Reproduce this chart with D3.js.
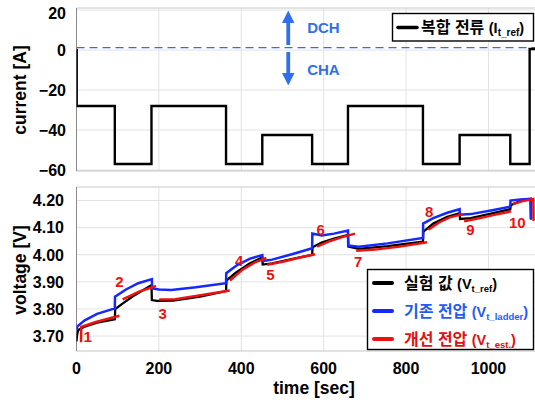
<!DOCTYPE html>
<html>
<head>
<meta charset="utf-8">
<script src="https://cdn.jsdelivr.net/npm/d3@7"></script>
<style>
  body { margin: 0; background: #fff; }
  svg text { font-family: "Liberation Sans", Arial, "Noto Sans CJK KR", sans-serif; font-weight: bold; }
</style>
</head>
<body>
<div id="chart"></div>
<script>
// ticks
var timeTicks = [0, 200, 400, 600, 800, 1000];
var currentTicks = [20, 0, -20, -40, -60];
var voltTicks = [3.70, 3.80, 3.90, 4.00, 4.10, 4.20];

// composite current profile (step after)
var stepTime    = [0, 0.5, 93, 182, 363, 451, 572, 659, 841, 930, 1053, 1100, 1113];
var stepCurrent = [0, -28, -57, -28, -57, -42.5, -57, -28, -57, -42.5, -57, 0.5, 0.5];
var refLine = 1.2;

// measured voltage V_t_ref  [time, volt]
var refVolt = [
  [0, 3.680], [1, 3.700], [4, 3.722], [20, 3.735], [50, 3.750], [93, 3.762],
  [94, 3.800], [110, 3.818], [135, 3.845], [160, 3.868], [182, 3.888],
  [183, 3.833], [195, 3.830], [235, 3.831], [300, 3.846], [363, 3.866],
  [364, 3.905], [385, 3.932], [420, 3.968], [451, 3.990],
  [452, 3.964], [475, 3.968], [525, 3.985], [572, 4.000],
  [573, 4.028], [595, 4.045], [625, 4.060], [659, 4.073],
  [660, 4.030], [685, 4.022], [755, 4.032], [841, 4.048],
  [842, 4.085], [866, 4.115], [900, 4.140], [930, 4.153],
  [931, 4.132], [957, 4.135], [1006, 4.152], [1053, 4.168],
  [1054, 4.183], [1077, 4.198], [1102, 4.206], [1103, 4.130]
];

// ladder model voltage V_t_ladder
var ladderVolt = [
  [0, 3.722], [2, 3.736], [20, 3.758], [50, 3.782], [93, 3.802],
  [93.5, 3.845], [120, 3.872], [150, 3.895], [183, 3.910],
  [183.5, 3.876], [200, 3.872], [230, 3.870], [290, 3.880], [363, 3.895],
  [363.5, 3.932], [390, 3.962], [420, 3.985], [451, 3.999],
  [451.5, 3.977], [475, 3.982], [525, 4.003], [572, 4.024],
  [572.5, 4.078], [595, 4.071], [625, 4.078], [659, 4.089],
  [659.5, 4.034], [685, 4.030], [755, 4.042], [841, 4.062],
  [841.5, 4.115], [866, 4.135], [900, 4.155], [930, 4.168],
  [930.5, 4.148], [957, 4.150], [1006, 4.163], [1053, 4.177],
  [1053.5, 4.200], [1077, 4.204], [1103, 4.206], [1103.5, 4.130]
];

// improved estimate V_t_est. (null = break between estimation windows)
var estVolt = [
  [11, 3.677], [11.5, 3.734], [47, 3.752], [104, 3.775], null,
  [112, 3.835], [152, 3.864], [193, 3.885], null,
  [201, 3.835], [240, 3.836], [290, 3.848], [372, 3.868], null,
  [372.5, 3.905], [403, 3.945], [433, 3.972], [461, 3.988], null,
  [463, 3.963], [503, 3.975], [543, 3.990], [579, 4.002], null,
  [584, 4.030], [614, 4.050], [645, 4.065], [676, 4.078], null,
  [679, 4.015], [725, 4.019], [785, 4.030], [851, 4.046], null,
  [854, 4.092], [881, 4.120], [906, 4.138], [937, 4.150], null,
  [941, 4.124], [977, 4.135], [1017, 4.148], [1055, 4.160], null,
  [1059, 4.187], [1083, 4.198], [1109, 4.206], [1109.5, 4.125]
];

// step number annotations
var stepNames = ["1", "2", "3", "4", "5", "6", "7", "8", "9", "10"];
var stepNameTime = [27, 104, 209, 395, 471, 593, 684, 856, 956, 1070];
var stepNameVolt = [3.697, 3.900, 3.783, 3.980, 3.926, 4.094, 3.974, 4.159, 4.094, 4.118];

var BLACK = "#000", BLUE = "#1428ff", RED = "#ee1111", ARROW = "#2f6fef";

var svg = d3.select("#chart").append("svg")
    .attr("width", 535).attr("height", 403);

var x = d3.scaleLinear().domain([0, 1113]).range([76.5, 535]);
var yI = d3.scaleLinear().domain([-60.5, 21]).range([171, 8]);
var yV = d3.scaleLinear().domain([3.645, 4.25]).range([351, 187]);

function panel(yScale, ticks, fmt, labelX) {
  var top = yScale.range()[1], bot = yScale.range()[0];
  var g = svg.append("g");
  g.selectAll(".vg").data(timeTicks.slice(1)).enter().append("line")
    .attr("x1", function(d){ return x(d); }).attr("x2", function(d){ return x(d); })
    .attr("y1", top).attr("y2", bot)
    .attr("stroke", "#e2e2e2").attr("stroke-width", 1);
  g.selectAll(".hg").data(ticks).enter().append("line")
    .attr("x1", x(0)).attr("x2", 535)
    .attr("y1", function(d){ return yScale(d); }).attr("y2", function(d){ return yScale(d); })
    .attr("stroke", "#e2e2e2").attr("stroke-width", 1);
  // frame
  g.append("line").attr("x1", x(0)).attr("x2", 535).attr("y1", top).attr("y2", top)
    .attr("stroke", "#c8c8c8");
  g.append("line").attr("x1", x(0)).attr("x2", x(0)).attr("y1", top).attr("y2", bot)
    .attr("stroke", "#8a8a8a");
  g.append("line").attr("x1", x(0)).attr("x2", 535).attr("y1", bot).attr("y2", bot)
    .attr("stroke", "#8a8a8a").attr("stroke-dasharray", "1,1");
  g.selectAll(".tl").data(ticks).enter().append("text")
    .attr("x", labelX)
    .attr("y", function(d){ return Math.max(yScale(d), top + 5); })
    .attr("dy", "0.36em")
    .attr("text-anchor", "end")
    .attr("font-size", "16px")
    .text(fmt);
  return g;
}

panel(yI, currentTicks, d3.format("d"), 66);
panel(yV, voltTicks, d3.format(".2f"), 64);

// x tick labels (bottom panel only)
svg.selectAll(".xt").data(timeTicks).enter().append("text")
  .attr("x", function(d){ return x(d); })
  .attr("y", 368).attr("dy", "0.36em")
  .attr("text-anchor", "middle").attr("font-size", "16px")
  .text(function(d){ return d; });

svg.append("text").attr("x", 314).attr("y", 388).attr("dy", "0.36em")
  .attr("text-anchor", "middle").attr("font-size", "17.5px").text("time [sec]");
svg.append("text").attr("transform", "translate(20,90) rotate(-90)")
  .attr("dy", "0.36em").attr("text-anchor", "middle").attr("font-size", "17.5px")
  .text("current [A]");
svg.append("text").attr("transform", "translate(20,270) rotate(-90)")
  .attr("dy", "0.36em").attr("text-anchor", "middle").attr("font-size", "17.5px")
  .text("voltage [V]");

// clip for plot areas
var defs = svg.append("defs");
defs.append("clipPath").attr("id", "clipI").append("rect")
  .attr("x", x(0)).attr("y", 0).attr("width", 535 - x(0)).attr("height", 175);
defs.append("clipPath").attr("id", "clipV").append("rect")
  .attr("x", x(0)).attr("y", 185).attr("width", 535 - x(0)).attr("height", 168);

// ---- current panel ----
var gI = svg.append("g").attr("clip-path", "url(#clipI)");
gI.append("line")
  .attr("x1", x(0)).attr("x2", 535)
  .attr("y1", yI(refLine)).attr("y2", yI(refLine))
  .attr("stroke", ARROW).attr("stroke-width", 1.4).attr("stroke-dasharray", "8,5");

var currentLine = d3.line()
  .x(function(d, i){ return x(stepTime[i]); })
  .y(function(d){ return yI(d); })
  .curve(d3.curveStepAfter);
gI.append("path").datum(stepCurrent)
  .attr("d", currentLine)
  .attr("fill", "none").attr("stroke", BLACK).attr("stroke-width", 2.4);

// DCH / CHA arrows
defs.append("marker").attr("id", "ah").attr("viewBox", "0 0 10 10")
  .attr("refX", 5).attr("refY", 5).attr("markerWidth", 3.4).attr("markerHeight", 3.4)
  .attr("orient", "auto-start-reverse").attr("markerUnits", "strokeWidth")
  .append("path").attr("d", "M0,0 L10,5 L0,10 z").attr("fill", ARROW);
svg.append("line").attr("x1", x(514)).attr("x2", x(514))
  .attr("y1", yI(2.5)).attr("y2", yI(16.5))
  .attr("stroke", ARROW).attr("stroke-width", 3.8).attr("marker-end", "url(#ah)");
svg.append("line").attr("x1", x(514)).attr("x2", x(514))
  .attr("y1", yI(-1)).attr("y2", yI(-14.5))
  .attr("stroke", ARROW).attr("stroke-width", 3.8).attr("marker-end", "url(#ah)");
svg.append("text").attr("x", x(560)).attr("y", yI(11.3)).attr("dy", "0.36em")
  .attr("font-size", "15px").attr("fill", ARROW).text("DCH");
svg.append("text").attr("x", x(560)).attr("y", yI(-10)).attr("dy", "0.36em")
  .attr("font-size", "15px").attr("fill", ARROW).text("CHA");

// current legend
var lg1 = svg.append("g");
lg1.append("rect").attr("x", 392.5).attr("y", 13.5).attr("width", 141).attr("height", 27.5)
  .attr("fill", "#fff").attr("stroke", "#000").attr("stroke-width", 1.4);
lg1.append("line").attr("x1", 398).attr("x2", 417).attr("y1", 27.5).attr("y2", 27.5)
  .attr("stroke", BLACK).attr("stroke-width", 3.6).attr("stroke-linecap", "round");
var t1 = lg1.append("text").attr("x", 421).attr("y", 27.5).attr("dy", "0.36em")
  .attr("font-size", "16px");
t1.append("tspan").text("복합 전류 ");
t1.append("tspan").attr("font-size", "14.5px").text("(I");
t1.append("tspan").attr("font-size", "10px").attr("dy", "3").text("t_ref");
t1.append("tspan").attr("font-size", "14.5px").attr("dy", "-3").text(")");

// ---- voltage panel ----
var gV = svg.append("g").attr("clip-path", "url(#clipV)");
var vLine = d3.line()
  .defined(function(d){ return d !== null; })
  .x(function(d){ return x(d[0]); })
  .y(function(d){ return yV(d[1]); });

gV.append("path").datum(refVolt).attr("d", vLine)
  .attr("fill", "none").attr("stroke", BLACK).attr("stroke-width", 2.3);
gV.append("path").datum(ladderVolt).attr("d", vLine)
  .attr("fill", "none").attr("stroke", BLUE).attr("stroke-width", 2.5);
gV.append("path").datum(estVolt).attr("d", vLine)
  .attr("fill", "none").attr("stroke", RED).attr("stroke-width", 2.5);

svg.selectAll(".sn").data(stepNames).enter().append("text")
  .attr("x", function(d, i){ return x(stepNameTime[i]); })
  .attr("y", function(d, i){ return yV(stepNameVolt[i]); })
  .attr("dy", "0.36em").attr("text-anchor", "middle")
  .attr("font-size", "15px").attr("fill", RED)
  .text(function(d){ return d; });

// voltage legend
var legItems = [
  { name: "실험 값 ", sub: "t_ref", color: BLACK, text: "#000" },
  { name: "기존 전압 ", sub: "t_ladder", color: BLUE, text: "#1f5cf5" },
  { name: "개선 전압 ", sub: "t_est.", color: RED, text: "#e01010" }
];
var lg2 = svg.append("g");
lg2.append("rect").attr("x", 367.5).attr("y", 269.5).attr("width", 166).attr("height", 80)
  .attr("fill", "#fff").attr("stroke", "#000").attr("stroke-width", 1.4);
var rows = lg2.selectAll(".row").data(legItems).enter().append("g")
  .attr("transform", function(d, i){ return "translate(0," + (283 + i * 28) + ")"; });
rows.append("line").attr("x1", 374).attr("x2", 392).attr("y1", 0).attr("y2", 0)
  .attr("stroke", function(d){ return d.color; }).attr("stroke-width", 4)
  .attr("stroke-linecap", "round");
var rt = rows.append("text").attr("x", 404).attr("y", 0).attr("dy", "0.36em")
  .attr("font-size", "16px").attr("fill", function(d){ return d.text; });
rt.append("tspan").text(function(d){ return d.name; });
rt.append("tspan").attr("font-size", "14.5px").text("(V");
rt.append("tspan").attr("font-size", "9.5px").attr("dy", "3").text(function(d){ return d.sub; });
rt.append("tspan").attr("font-size", "14.5px").attr("dy", "-3").text(")");
</script>
</body>
</html>
